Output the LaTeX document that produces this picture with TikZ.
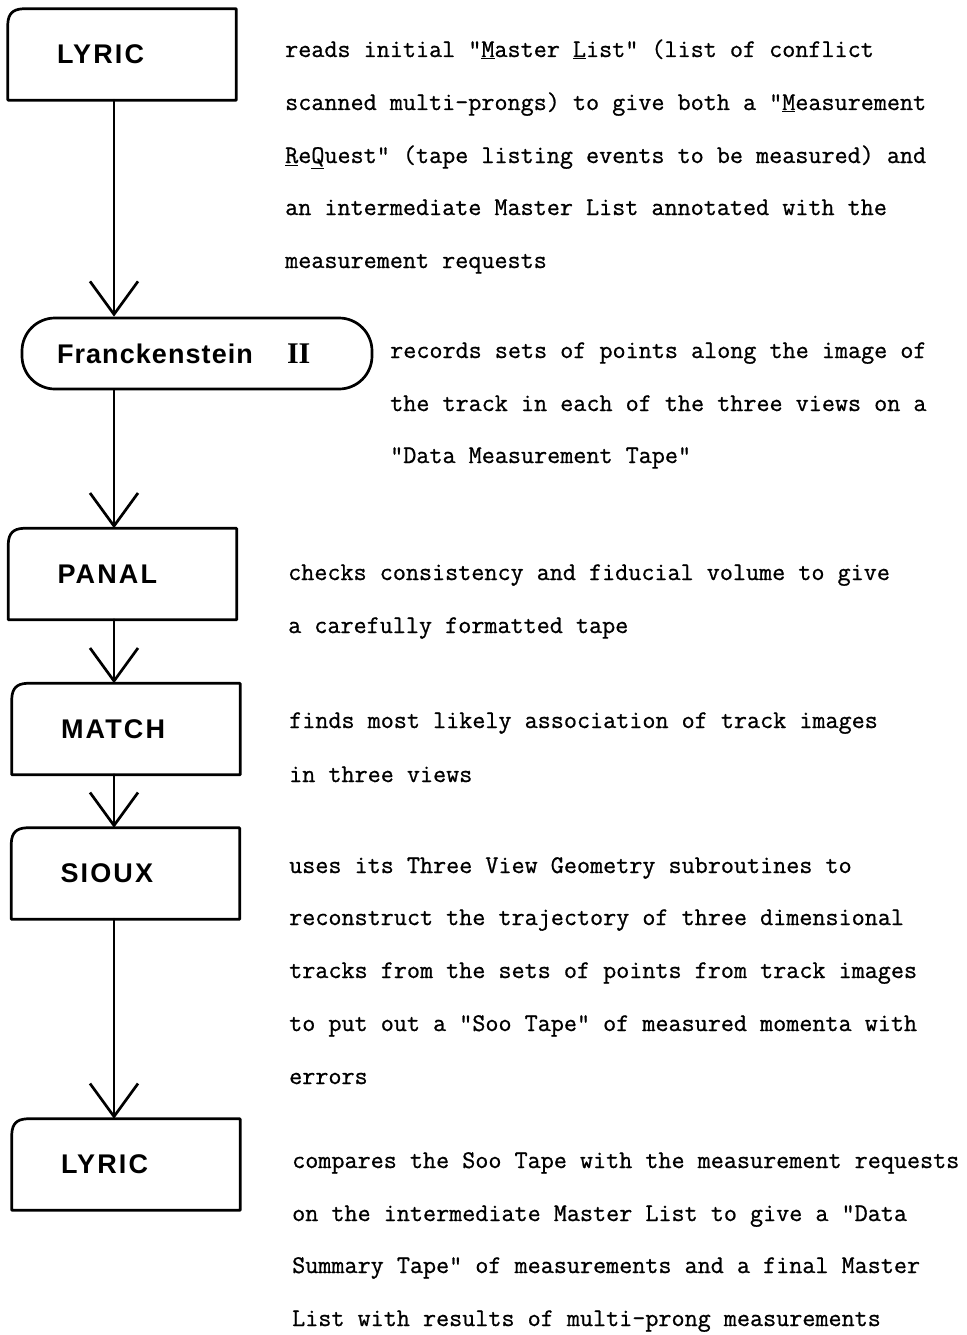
\documentclass[tikz,border=0pt]{standalone}
\usepackage{fontspec}
\usetikzlibrary{arrows.meta}
\newfontfamily\boxfont[LetterSpace=8]{Liberation Sans}
\newfontfamily\romfont{Liberation Serif}
\newfontfamily\typ[FakeBold=0.8]{Latin Modern Mono}
\newcommand{\ulc}[1]{\underline{#1}}
\tikzset{
  x=1pt, y=1pt,
  ln/.style={line width=2.7pt, line cap=round, line join=round},
  prog/.style={minimum width=228pt, minimum height=91pt, inner xsep=0pt,
    text width=130pt, align=left, font=\boxfont\bfseries\fontsize{27}{30}\selectfont},
  stad/.style={draw, ln, rounded corners=33pt, minimum width=350pt, minimum height=71pt,
    inner xsep=0pt, text width=280pt, align=left, font=\boxfont\bfseries\fontsize{27}{30}\selectfont},
  txt/.style={anchor=base west, inner sep=0pt, font=\typ\fontsize{25.4}{30}\selectfont},
  flow/.style={ln, -{Straight Barb[length=33pt, width=48pt, line width=2.7pt]}},
}
\newcommand{\progbox}[1]{%
  \draw[ln] (#1.south west) -- ([yshift=-15pt]#1.north west)
    .. controls ([xshift=0.5pt,yshift=-5pt]#1.north west) and ([xshift=5pt,yshift=-0.5pt]#1.north west)
    .. ([xshift=15pt]#1.north west) -- (#1.north east)
    -- (#1.south east) -- cycle;}
\begin{document}
\begin{tikzpicture}
\useasboundingbox (0,0) rectangle (966,-1335);
% boxes
\node[prog] (b1) at (122,-54.5) {LYRIC};
\node[stad] (f) at (197,-353.5) {{\addfontfeatures{LetterSpace=4}Franckenstein}\hspace{34pt}{\romfont\bfseries\fontsize{30}{30}\selectfont II}};
\node[prog] (b2) at (122.5,-574) {PANAL};
\node[prog] (b3) at (126,-729) {MATCH};
\node[prog] (b4) at (125.5,-873.5) {SIOUX};
\node[prog] (b5) at (126,-1164.5) {LYRIC};
\progbox{b1}\progbox{b2}\progbox{b3}\progbox{b4}\progbox{b5}
% connectors
\draw[flow] ([xshift=-8pt]b1.south) -- ([xshift=-83pt]f.north);
\draw[flow] ([xshift=-83pt]f.south) -- ([xshift=-8.5pt]b2.north);
\draw[flow] ([xshift=-8.5pt]b2.south) -- ([xshift=-12pt]b3.north);
\draw[flow] ([xshift=-12pt]b3.south) -- ([xshift=-11.5pt]b4.north);
\draw[flow] ([xshift=-11.5pt]b4.south) -- ([xshift=-12pt]b5.north);
% descriptions
\node[txt] (t11) at (285,-57) {reads initial "\ulc{M}aster \ulc{L}ist" (list of conflict};
\node[txt] (t12) at (285,-110) {scanned multi-prongs) to give both a "\ulc{M}easurement};
\node[txt] (t13) at (285,-163) {\ulc{R}e\ulc{Q}uest" (tape listing events to be measured) and};
\node[txt] (t14) at (285,-215) {an intermediate Master List annotated with the};
\node[txt] (t15) at (285,-268) {measurement requests};
\node[txt] (t21) at (390,-358) {records sets of points along the image of};
\node[txt] (t22) at (390,-411) {the track in each of the three views on a};
\node[txt] (t23) at (390,-463) {"Data Measurement Tape"};
\node[txt] (t31) at (288,-580) {checks consistency and fiducial volume to give};
\node[txt] (t32) at (288,-633) {a carefully formatted tape};
\node[txt] (t41) at (289,-728) {finds most likely association of track images};
\node[txt] (t42) at (289,-782) {in three views};
\node[txt] (t51) at (289,-873) {uses its Three View Geometry subroutines to};
\node[txt] (t52) at (289,-925) {reconstruct the trajectory of three dimensional};
\node[txt] (t53) at (289,-978) {tracks from the sets of points from track images};
\node[txt] (t54) at (289,-1031) {to put out a "Soo Tape" of measured momenta with};
\node[txt] (t55) at (289,-1084) {errors};
\node[txt] (t61) at (292,-1168) {compares the Soo Tape with the measurement requests};
\node[txt] (t62) at (292,-1221) {on the intermediate Master List to give a "Data};
\node[txt] (t63) at (292,-1273) {Summary Tape" of measurements and a final Master};
\node[txt] (t64) at (292,-1326) {List with results of multi-prong measurements};
\end{tikzpicture}
\end{document}
